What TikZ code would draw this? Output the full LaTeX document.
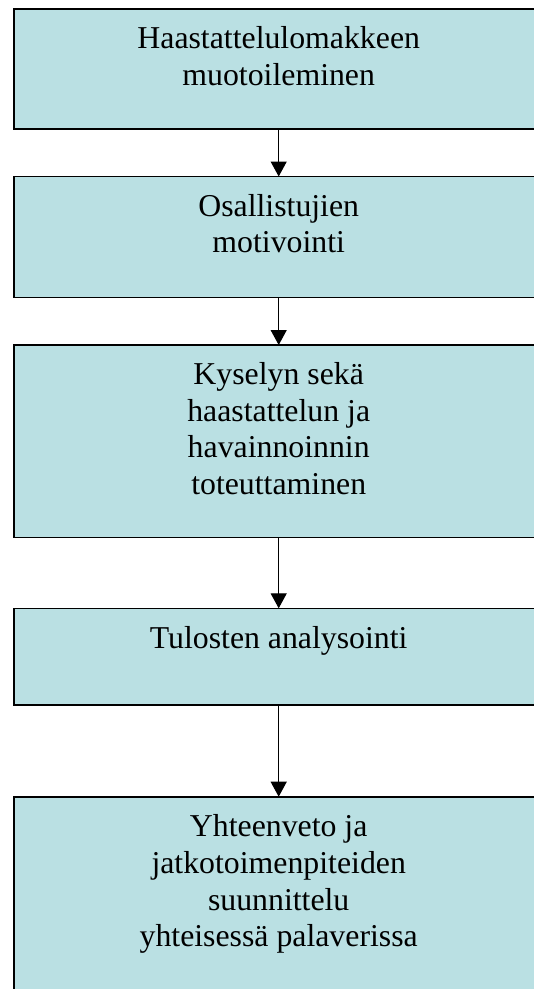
\documentclass[tikz,border=0pt]{standalone}
\usepackage{fontspec}
\setmainfont{Liberation Serif}
\usetikzlibrary{arrows.meta}

\definecolor{stagefill}{RGB}{186,224,227}

\tikzset{
  stagebox/.style={draw=black, line width=1.6pt, fill=stagefill,
    rectangle, anchor=north west, inner sep=0pt, outer sep=0pt,
    minimum width=529.4pt},
  % base anchor of a multi-line label sits on its last line
  stagetext/.style={anchor=base, align=center, inner sep=0pt,
    font=\fontsize{31.8}{36.7}\selectfont},
  flow/.style={line width=1.2pt, -{Triangle[width=16pt,length=15pt]}}
}

\begin{document}
\begin{tikzpicture}[x=1pt,y=-1pt]
  \useasboundingbox (0,0) rectangle (534,989);
  \clip (0,0) rectangle (534,989);

  % vertical line through the middle of the flow
  \coordinate (axis) at (278.7,0);

  % process stages
  \node[stagebox, minimum height=119.7pt] (b1) at (14,9) {};
  \node[stagebox, minimum height=120.8pt] (b2) at (14,176.5) {};
  \node[stagebox, minimum height=192.3pt] (b3) at (14,345) {};
  \node[stagebox, minimum height=96.7pt]  (b4) at (14,608.3) {};
  \node[stagebox, minimum height=213pt]   (b5) at (14,796.7) {};

  % stage labels (placed by the baseline of their last line)
  \node[stagetext] (t1) at (278.7,85) {Haastattelulomakkeen\\muotoileminen};
  \node[stagetext] (t2) at (278.7,252.7) {Osallistujien\\motivointi};
  \node[stagetext] (t3) at (278.7,494.6) {Kyselyn sekä\\haastattelun ja\\havainnoinnin\\toteuttaminen};
  \node[stagetext] (t4) at (278.7,648.3) {Tulosten analysointi};
  \node[stagetext] (t5) at (278.7,946.8) {Yhteenveto ja\\jatkotoimenpiteiden\\suunnittelu\\yhteisessä palaverissa};

  % arrows between stages
  \draw[flow] (b1.south -| axis) -- (b2.north -| axis);
  \draw[flow] (b2.south -| axis) -- (b3.north -| axis);
  \draw[flow] (b3.south -| axis) -- (b4.north -| axis);
  \draw[flow] (b4.south -| axis) -- (b5.north -| axis);
\end{tikzpicture}
\end{document}
